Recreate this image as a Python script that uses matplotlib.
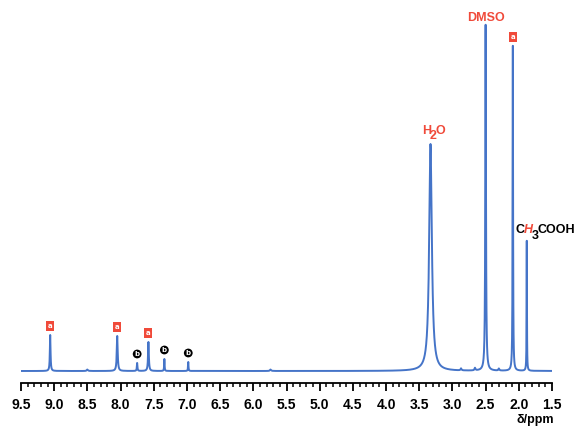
import numpy as np
import matplotlib
matplotlib.use("Agg")
import matplotlib.pyplot as plt

# peak table: shift (ppm), height (px above baseline), half width (ppm)
shifts = [9.06, 8.50, 8.05, 7.75, 7.58, 7.34, 6.98, 5.74, 3.33, 2.87, 2.66, 2.50, 2.30, 2.09, 1.88]
heights = [36, 1.5, 35, 8, 29, 12, 9, 1.5, 227, 2, 2.5, 346, 2, 325, 130]
widths = [0.006, 0.01, 0.008, 0.005, 0.007, 0.004, 0.004, 0.01, 0.024, 0.008, 0.008, 0.006, 0.008, 0.004, 0.003]

# labels above the peaks
sq_peaks = [9.06, 8.05, 7.58, 2.09]   # red squares
circ_peaks = [7.75, 7.34, 6.98]       # black circles

x = np.linspace(1.5, 9.5, 40001)
y = np.zeros_like(x)
for s, h, w in zip(shifts, heights, widths):
    y += h * w**2 / ((x - s)**2 + w**2)

fig = plt.figure(figsize=(5.77, 4.26), dpi=100)
W, H = 577, 426
ax = fig.add_axes([21 / W, (H - 383) / H, 531 / W, 383 / H])
ax.plot(x, y, color='#4574c8', lw=1.4)
ax.set_xlim(9.5, 1.5)
ax.set_ylim(-12, 371)

for s in ['top', 'right', 'left']:
    ax.spines[s].set_visible(False)
ax.spines['bottom'].set_linewidth(1.3)
ax.set_yticks([])
ax.set_xticks(np.arange(1.5, 9.51, 0.5))
ax.set_xticks(np.arange(1.5, 9.51, 0.1), minor=True)
ax.set_xticklabels(["%.1f" % v for v in np.arange(1.5, 9.51, 0.5)],
                   fontsize=10, fontweight='bold', family='Liberation Sans')
ax.tick_params(axis='x', which='major', length=6, width=1.3, pad=5)
ax.tick_params(axis='x', which='minor', length=3, width=1.1)

peak_h = dict(zip(shifts, heights))
for p in sq_peaks:
    ax.text(p, peak_h[p] + 6, 'a', color='white', fontsize=5, fontweight='bold',
            ha='center', va='bottom',
            bbox=dict(boxstyle='square,pad=0.25', fc='#f04a3a', ec='none'))
for p in circ_peaks:
    ax.text(p, peak_h[p] + 6, 'b', color='white', fontsize=5, fontweight='bold',
            ha='center', va='bottom',
            bbox=dict(boxstyle='circle,pad=0.2', fc='black', ec='none'))

red = '#f04a3a'
fnt = dict(family='Liberation Sans', fontweight='bold', fontsize=9)
ax.text(2.50, 347, 'DMSO', color=red, ha='center', va='bottom', **fnt)

def ftxt(px, py, s, **kw):
    fig.text(px / W, 1 - py / H, s, va='center', **kw)

ftxt(422, 131, 'H', color=red, **fnt)
ftxt(430, 136, '2', color=red, **fnt)
ftxt(436, 131, 'O', color=red, **fnt)

ftxt(516, 230, 'C', color='black', **fnt)
ftxt(524, 230, 'H', color=red, fontstyle='italic', **fnt)
ftxt(532, 236, '3', color='black', **fnt)
ftxt(538, 230, 'COOH', color='black', **fnt)

fig.text(535 / W, 1 - 420 / H, 'δ/ppm', ha='center', va='center', **fnt)

fig.savefig('out.png', dpi=100)
